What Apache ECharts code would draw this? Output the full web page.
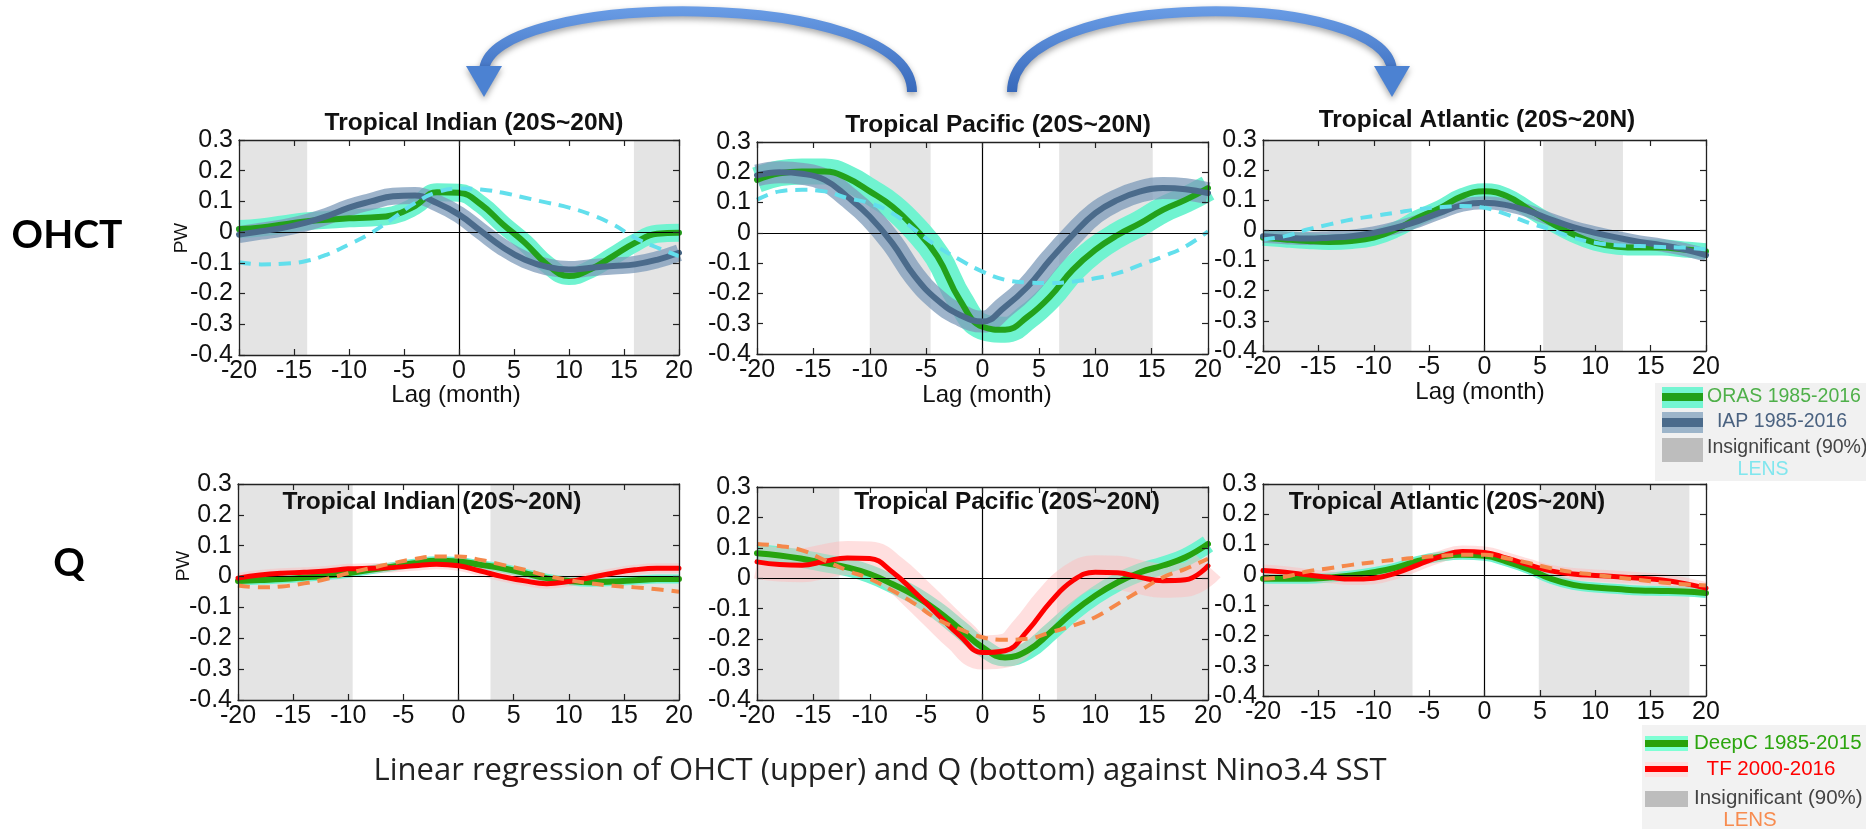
<!DOCTYPE html>
<html><head><meta charset="utf-8">
<script src="https://cdn.jsdelivr.net/npm/echarts@6/dist/echarts.min.js"></script>
<style>html,body{margin:0;padding:0;background:#fff;}#c{width:1866px;height:829px;}</style>
</head><body><div id="c"></div>
<script>
// ---------- data ----------
const lags = [-20,-18,-16,-14,-12,-10,-8,-6,-4,-2,0,2,4,6,8,10,12,14,16,18,20];

// OHCT, Tropical Indian
const indOHCT_ORAS = [0.01,0.015,0.025,0.035,0.04,0.045,0.048,0.055,0.085,0.13,0.128,0.09,0.025,-0.035,-0.105,-0.143,-0.12,-0.078,-0.035,-0.005,-0.002];
const indOHCT_IAP  = [-0.008,0.003,0.014,0.03,0.052,0.08,0.1,0.117,0.119,0.095,0.057,0.003,-0.05,-0.09,-0.113,-0.122,-0.116,-0.11,-0.105,-0.09,-0.067];
const indOHCT_LENS = [-0.098,-0.105,-0.103,-0.095,-0.073,-0.04,-0.003,0.045,0.095,0.13,0.142,0.139,0.128,0.112,0.096,0.08,0.057,0.025,-0.018,-0.05,-0.078];
// OHCT, Tropical Pacific
const pacOHCT_ORAS = [0.175,0.197,0.203,0.203,0.181,0.137,0.087,0.015,-0.078,-0.222,-0.31,-0.32,-0.277,-0.21,-0.122,-0.056,-0.007,0.032,0.076,0.109,0.148];
const pacOHCT_IAP  = [0.19,0.2,0.195,0.175,0.12,0.054,-0.034,-0.144,-0.222,-0.271,-0.293,-0.244,-0.178,-0.089,-0.007,0.065,0.109,0.137,0.148,0.144,0.131];
const pacOHCT_LENS = [0.109,0.137,0.142,0.137,0.115,0.098,0.065,0.01,-0.045,-0.089,-0.128,-0.155,-0.164,-0.166,-0.161,-0.15,-0.133,-0.106,-0.078,-0.045,0.005];
// OHCT, Tropical Atlantic
const atlOHCT_ORAS = [-0.024,-0.03,-0.035,-0.038,-0.035,-0.024,0.003,0.042,0.075,0.114,0.13,0.114,0.07,0.025,-0.013,-0.041,-0.054,-0.057,-0.057,-0.063,-0.069];
const atlOHCT_IAP  = [-0.019,-0.024,-0.027,-0.024,-0.019,-0.008,0.009,0.031,0.059,0.084,0.092,0.084,0.064,0.036,0.011,-0.008,-0.024,-0.038,-0.049,-0.063,-0.082];
const atlOHCT_LENS = [-0.03,-0.019,0.003,0.02,0.036,0.048,0.059,0.07,0.077,0.081,0.075,0.053,0.025,0.003,-0.024,-0.041,-0.049,-0.052,-0.055,-0.057,-0.063];
// Q, Tropical Indian
const indQ_DeepC = [-0.014,-0.011,-0.008,-0.003,0.003,0.011,0.022,0.032,0.043,0.051,0.049,0.038,0.027,0.011,-0.005,-0.014,-0.018,-0.016,-0.012,-0.008,-0.008];
const indQ_TF    = [-0.005,0.005,0.011,0.014,0.018,0.025,0.027,0.029,0.035,0.04,0.035,0.018,0,-0.014,-0.023,-0.016,-0.003,0.011,0.022,0.027,0.027];
const indQ_LENS  = [-0.029,-0.035,-0.032,-0.022,-0.008,0.011,0.027,0.043,0.057,0.065,0.065,0.054,0.038,0.022,0.003,-0.011,-0.022,-0.03,-0.035,-0.041,-0.049];
// Q, Tropical Pacific
const pacQ_DeepC = [0.082,0.075,0.064,0.05,0.036,0.014,-0.019,-0.057,-0.107,-0.167,-0.227,-0.26,-0.238,-0.178,-0.112,-0.057,-0.013,0.02,0.042,0.069,0.113];
const pacQ_TF    = [0.054,0.045,0.043,0.056,0.067,0.065,0.021,-0.046,-0.118,-0.189,-0.244,-0.238,-0.172,-0.079,-0.008,0.02,0.018,0.003,-0.008,-0.005,0.041];
const pacQ_LENS  = [0.113,0.106,0.092,0.059,0.026,-0.002,-0.04,-0.084,-0.134,-0.167,-0.194,-0.202,-0.199,-0.178,-0.156,-0.128,-0.084,-0.04,0.003,0.031,0.064];
// Q, Tropical Atlantic
const atlQ_DeepC = [-0.013,-0.013,-0.013,-0.009,-0.002,0.009,0.024,0.046,0.06,0.066,0.063,0.044,0.019,-0.013,-0.033,-0.042,-0.047,-0.052,-0.053,-0.055,-0.06];
const atlQ_TF    = [0.014,0.009,0,-0.008,-0.014,-0.011,0.006,0.033,0.06,0.077,0.074,0.055,0.033,0.013,0.003,-0.002,-0.006,-0.011,-0.017,-0.028,-0.044];
const atlQ_LENS  = [-0.013,-0.006,0.011,0.022,0.033,0.042,0.05,0.057,0.063,0.066,0.066,0.055,0.039,0.022,0.009,0,-0.009,-0.017,-0.025,-0.031,-0.035];

// insignificant (90%) lag ranges
const indOHCT_insig = [[-20,-13.8],[15.9,20]];
const pacOHCT_insig = [[-10,-4.6],[6.8,15.1]];
const atlOHCT_insig = [[-20,-6.6],[5.3,12.5]];
const indQ_insig = [[-20,-9.6],[2.9,20]];
const pacQ_insig = [[-20,-12.7],[6.6,20]];
const atlQ_insig = [[-20,-6.5],[4.9,18.5]];

const panelTitles = ['Tropical Indian (20S~20N)','Tropical Pacific (20S~20N)','Tropical Atlantic (20S~20N)'];
const xRange = [-20,20], xStep = 5;
const yRange = [-0.4,0.3], yStep = 0.1;

// ---------- layout ----------
const grids = [
  {left:239, top:140, width:440, height:215},
  {left:757, top:142, width:451, height:212},
  {left:1263, top:140, width:443, height:211},
  {left:238, top:484, width:441, height:216},
  {left:757, top:487, width:451, height:213},
  {left:1263, top:484, width:443, height:212}
];
const FONT = 'Liberation Sans, Arial, sans-serif';

const xAxes = [], yAxes = [];
grids.forEach((g,i)=>{
  const line = {show:true,onZero:false,lineStyle:{color:'#222',width:1.3}};
  const tick = {show:true,inside:true,length:6,lineStyle:{color:'#222',width:1.2}};
  xAxes.push({type:'value',gridIndex:i,min:xRange[0],max:xRange[1],interval:xStep,position:'bottom',
    axisLine:line,axisTick:tick,splitLine:{show:false},z:10,
    axisLabel:{show:true,fontSize:25,color:'#111',margin:4,fontFamily:FONT}});
  xAxes.push({type:'value',gridIndex:i,min:xRange[0],max:xRange[1],interval:xStep,position:'top',
    axisLine:line,axisTick:tick,splitLine:{show:false},axisLabel:{show:false},z:10});
  yAxes.push({type:'value',gridIndex:i,min:yRange[0],max:yRange[1],interval:yStep,position:'left',
    axisLine:line,axisTick:tick,splitLine:{show:false},z:10,
    axisLabel:{show:true,fontSize:25,color:'#111',margin:6,fontFamily:FONT,
      formatter:v=>Math.abs(v)<1e-9?'0':(+v).toFixed(1)}});
  yAxes.push({type:'value',gridIndex:i,min:yRange[0],max:yRange[1],interval:yStep,position:'right',
    axisLine:line,axisTick:tick,splitLine:{show:false},axisLabel:{show:false},z:10});
});

function pts(vals){ return lags.map((x,i)=>[x, vals[i]]); }
function ln(g, vals, color, width, z, kind){
  return {type:'line', xAxisIndex:2*g, yAxisIndex:2*g, data:pts(vals), smooth:0.45, clip:true,
    showSymbol:false, symbol:'none', silent:true, animation:false, z:z,
    lineStyle:{color:color, width:width, cap:kind==='line'?'round':'butt', join:'round', type:kind==='dash'?[12,8]:'solid'}};
}
function shade(g, ranges){
  return {type:'line', xAxisIndex:2*g, yAxisIndex:2*g, data:[], silent:true, animation:false, z:1,
    markArea:{silent:true, itemStyle:{color:'#e4e4e4'},
      data:ranges.map(r=>[{xAxis:r[0]},{xAxis:r[1]}])}};
}
function zeros(g){
  return {type:'line', xAxisIndex:2*g, yAxisIndex:2*g, data:[], silent:true, animation:false, z:9,
    markLine:{silent:true, symbol:['none','none'], label:{show:false},
      lineStyle:{color:'#000', width:1.2, type:'solid'},
      data:[{yAxis:0},{xAxis:0}]}};
}

const AQUA='#70f3d0', GREEN='#23a11b', IAPBAND='rgba(125,155,185,0.75)', IAP='#4b6b8b', CYAN='#62dfec';
const PINK='rgba(255,185,185,0.45)', RED='#ff0000', ORANGE='#f5884a', GREEN2='#27a30f';

const series = [];
// top row
[[indOHCT_ORAS,indOHCT_IAP,indOHCT_LENS,indOHCT_insig,18,17],
 [pacOHCT_ORAS,pacOHCT_IAP,pacOHCT_LENS,pacOHCT_insig,26,22],
 [atlOHCT_ORAS,atlOHCT_IAP,atlOHCT_LENS,atlOHCT_insig,16,13]].forEach((p,g)=>{
  series.push(shade(g,p[3]));
  series.push(ln(g,p[0],AQUA,p[4],2,'band'));
  series.push(ln(g,p[1],IAPBAND,p[5],3,'band'));
  series.push(ln(g,p[0],GREEN,6,4,'line'));
  series.push(ln(g,p[1],IAP,6,5,'line'));
  series.push(ln(g,p[2],CYAN,4,6,'dash'));
  series.push(zeros(g));
});
// bottom row
[[indQ_DeepC,indQ_TF,indQ_LENS,indQ_insig,9,10],
 [pacQ_DeepC,pacQ_TF,pacQ_LENS,pacQ_insig,18,34],
 [atlQ_DeepC,atlQ_TF,atlQ_LENS,atlQ_insig,10,12]].forEach((p,k)=>{
  const g=k+3;
  series.push(shade(g,p[3]));
  series.push(ln(g,p[0],AQUA,p[4],2,'band'));
  series.push(ln(g,p[1],PINK,p[5],3,'band'));
  series.push(ln(g,p[0],GREEN2,6,4,'line'));
  series.push(ln(g,p[1],RED,5,5,'line'));
  series.push(ln(g,p[2],ORANGE,4,6,'dash'));
  series.push(zeros(g));
});

// ---------- graphics ----------
function txt(x,y,text,size,color,opt){
  return Object.assign({type:'text',x:x,y:y,silent:true,z:100,
    style:Object.assign({text:text,fontSize:size,fill:color,fontFamily:FONT,align:'center',verticalAlign:'middle'},(opt&&opt.style)||{})},
    opt&&opt.rotation!==undefined?{rotation:opt.rotation}:{});
}
function rect(x,y,w,h,fill){ return {type:'rect',silent:true,z:99,shape:{x:x,y:y,width:w,height:h},style:{fill:fill}}; }

function arrowGrad(){ return new echarts.graphic.LinearGradient(0,0,0,1,[
  {offset:0,color:'#6a9de6'},{offset:1,color:'#3566b8'}]); }
const shadowS = {shadowBlur:6,shadowColor:'rgba(0,0,0,0.35)',shadowOffsetY:3};
const graphic = [
  // arrows
  {type:'bezierCurve',silent:true,z:50,shape:{x1:912,y1:92,cpx1:912,cpy1:-14,cpx2:484,cpy2:-10,x2:484,y2:72},
    style:Object.assign({stroke:arrowGrad(),lineWidth:10,fill:null},shadowS)},
  {type:'polygon',silent:true,z:51,shape:{points:[[466,66],[502,66],[484,97]]},
    style:Object.assign({fill:'#4c82d2'},shadowS)},
  {type:'bezierCurve',silent:true,z:50,shape:{x1:1012,y1:92,cpx1:1012,cpy1:-14,cpx2:1392,cpy2:-10,x2:1392,y2:72},
    style:Object.assign({stroke:arrowGrad(),lineWidth:10,fill:null},shadowS)},
  {type:'polygon',silent:true,z:51,shape:{points:[[1374,66],[1410,66],[1392,97]]},
    style:Object.assign({fill:'#4c82d2'},shadowS)},
  // top titles
  txt(474,123,panelTitles[0],24.5,'#111',{style:{fontWeight:'bold'}}),
  txt(998,125,panelTitles[1],24.5,'#111',{style:{fontWeight:'bold'}}),
  txt(1477,120,panelTitles[2],24.5,'#111',{style:{fontWeight:'bold'}}),
  // bottom titles (inside plot)
  txt(432,502,panelTitles[0],24.5,'#111',{style:{fontWeight:'bold'}}),
  txt(1007,502,panelTitles[1],24.5,'#111',{style:{fontWeight:'bold'}}),
  txt(1447,502,panelTitles[2],24.5,'#111',{style:{fontWeight:'bold'}}),
  // x axis names
  txt(456,395,'Lag (month)',24,'#111'),
  txt(987,395,'Lag (month)',24,'#111'),
  txt(1480,392,'Lag (month)',24,'#111'),
  // y axis names
  txt(182,238,'PW',19,'#111',{rotation:Math.PI/2}),
  txt(184,566,'PW',19,'#111',{rotation:Math.PI/2}),
  // row labels
  txt(67,235,'OHCT',39,'#000',{style:{fontWeight:'bold',fontFamily:'Lato, sans-serif'}}),
  txt(69,563,'Q',39,'#000',{style:{fontWeight:'bold',fontFamily:'Lato, sans-serif'}}),
  // caption
  txt(880,771,'Linear regression of OHCT (upper) and Q (bottom) against Nino3.4 SST',31,'#222',{style:{fontFamily:'Open Sans, sans-serif'}}),
  // top legend
  rect(1655,383,211,98,'#f1f1f1'),
  rect(1662,387,41,21,'#74f5d2'), rect(1662,393,41,8,'#22a01a'),
  rect(1662,412,41,21,'#9db5ca'), rect(1662,418,41,9,'#4b6b8b'),
  rect(1662,438,41,24,'#bdbdbd'),
  txt(1707,397,'ORAS 1985-2016',19.5,'#4fb04a',{style:{align:'left'}}),
  txt(1782,422,'IAP 1985-2016',19.5,'#4a6280'),
  txt(1707,448,'Insignificant (90%)',19.5,'#444',{style:{align:'left'}}),
  txt(1763,470,'LENS',19.5,'#80e6ee'),
  // bottom legend
  rect(1642,725,224,104,'#f2f2f2'),
  rect(1645,736,43,15,'#7fffd4'), rect(1645,740,43,7,'#2aa10a'),
  rect(1645,762,43,15,'#ffe0e0'), rect(1645,766,43,6,'#ff0000'),
  rect(1645,791,43,16,'#bdbdbd'),
  txt(1694,743,'DeepC 1985-2015',20.5,'#2ca50f',{style:{align:'left'}}),
  txt(1771,769,'TF 2000-2016',20.5,'#ff0000'),
  txt(1694,798,'Insignificant (90%)',20.5,'#444',{style:{align:'left'}}),
  txt(1750,820,'LENS',20.5,'#f78c50')
];

const chart = echarts.init(document.getElementById('c'), null, {renderer:'canvas'});
chart.setOption({
  animation:false,
  backgroundColor:'#fff',
  grid:grids.map(g=>Object.assign({containLabel:false},g)),
  xAxis:xAxes, yAxis:yAxes, series:series, graphic:graphic
});
</script></body></html>
